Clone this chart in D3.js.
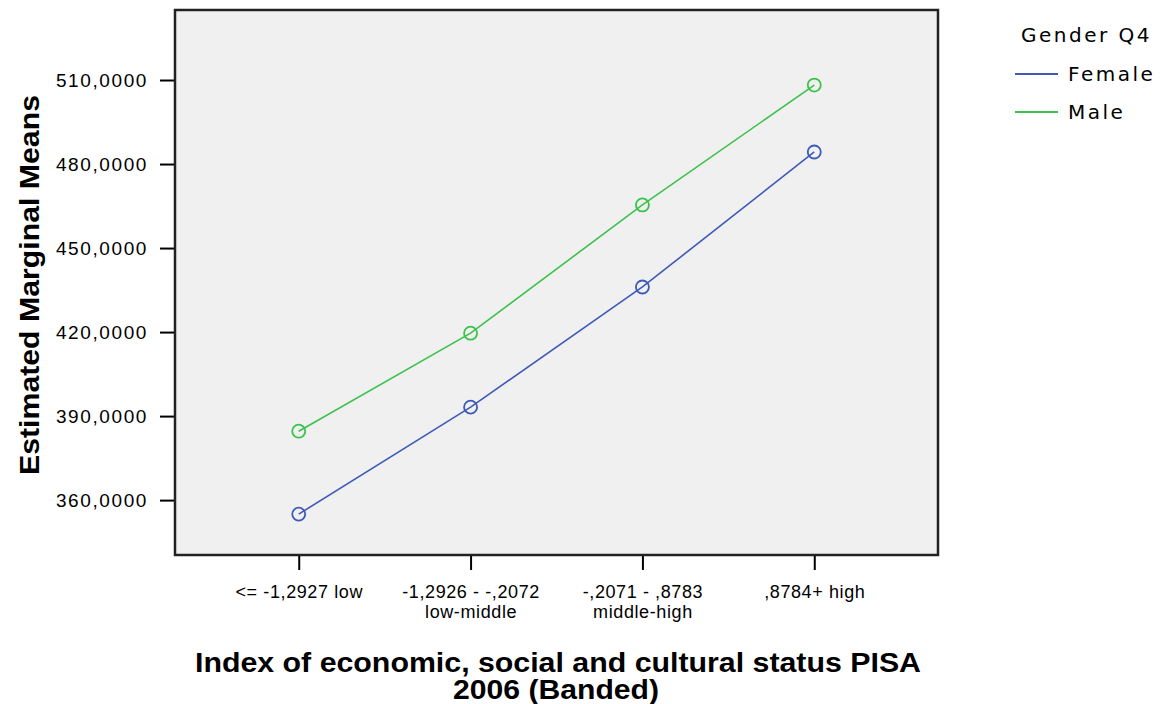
<!DOCTYPE html>
<html>
<head>
<meta charset="utf-8">
<script src="https://cdn.jsdelivr.net/npm/d3@7"></script>
<style>
  body { margin: 0; background: #fff; }
  svg { display: block; }
  .tick text { font-family: "Liberation Sans Narrow", "Liberation Sans", Arial, sans-serif; font-size: 18px; fill: #000; }
  .y-ax .tick text { font-size: 19px; letter-spacing: 1.6px; }
</style>
</head>
<body>
<svg width="1162" height="704"></svg>
<script>
// categories on the x axis (two-line labels)
const categories = ["<= -1,2927  low", "-1,2926 - -,2072|low-middle", "-,2071 - ,8783|middle-high", ",8784+ high"];
const seriesNames = ["Female", "Male"];
const femaleMeans = [355.0, 393.2, 436.1, 484.3];
const maleMeans = [384.6, 419.6, 465.4, 508.2];
const yTicks = [360, 390, 420, 450, 480, 510];

const colors = { Female: "#3d5ab8", Male: "#3cc24c" };

const svg = d3.select("svg");
const plot = { left: 175, top: 10, right: 938, bottom: 555 };
const titleFont = "'Liberation Sans Narrow', 'Liberation Sans', Arial, sans-serif";

const x = d3.scalePoint()
  .domain(categories)
  .range([plot.left, plot.right])
  .padding(0.72);

const y = d3.scaleLinear()
  .domain([340.4, 535])
  .range([plot.bottom, plot.top]);

// comma as decimal separator like the original output
const fmt = d3.formatLocale({ decimal: ",", thousands: ".", grouping: [3], currency: ["", ""] }).format(".4f");

// plot background
svg.append("rect")
  .attr("x", plot.left).attr("y", plot.top)
  .attr("width", plot.right - plot.left)
  .attr("height", plot.bottom - plot.top)
  .attr("fill", "#f0f0f0");

// y axis
const yAxis = svg.append("g")
  .attr("class", "y-ax")
  .attr("transform", `translate(${plot.left},0)`)
  .call(d3.axisLeft(y).tickValues(yTicks).tickFormat(fmt).tickSize(15).tickPadding(12));
yAxis.select(".domain").remove();
yAxis.selectAll(".tick line").attr("stroke", "#000").attr("stroke-width", 2);

// x axis
const xAxis = svg.append("g")
  .attr("transform", `translate(0,${plot.bottom})`)
  .call(d3.axisBottom(x).tickSize(15).tickPadding(10).tickFormat(""));
xAxis.select(".domain").remove();
xAxis.selectAll(".tick line").attr("stroke", "#000").attr("stroke-width", 2);
xAxis.selectAll(".tick").each(function (d) {
  const lines = d.split("|");
  lines.forEach((l, i) => {
    d3.select(this).append("text")
      .attr("text-anchor", "middle")
      .attr("y", 43 + i * 20)
      .style("letter-spacing", "0.6px")
      .text(l);
  });
});

// frame
svg.append("rect")
  .attr("x", plot.left).attr("y", plot.top)
  .attr("width", plot.right - plot.left)
  .attr("height", plot.bottom - plot.top)
  .attr("fill", "none")
  .attr("stroke", "#222")
  .attr("stroke-width", 2.5);

// lines and markers
const series = [
  { name: "Female", values: femaleMeans },
  { name: "Male", values: maleMeans }
];

const line = d3.line()
  .x((d, i) => x(categories[i]))
  .y(d => y(d));

series.forEach(s => {
  svg.append("path")
    .datum(s.values)
    .attr("fill", "none")
    .attr("stroke", colors[s.name])
    .attr("stroke-width", 1.6)
    .attr("d", line);

  svg.selectAll(null)
    .data(s.values)
    .enter()
    .append("circle")
    .attr("cx", (d, i) => x(categories[i]))
    .attr("cy", d => y(d))
    .attr("r", 6.5)
    .attr("fill", "none")
    .attr("stroke", colors[s.name])
    .attr("stroke-width", 1.8);
});

// axis titles
svg.append("text")
  .attr("transform", "translate(39,285) rotate(-90)")
  .attr("text-anchor", "middle")
  .attr("textLength", 380)
  .attr("lengthAdjust", "spacingAndGlyphs")
  .style("font-family", titleFont)
  .style("font-weight", "bold")
  .style("font-size", "27px")
  .text("Estimated Marginal Means");

svg.append("text")
  .attr("x", 558).attr("y", 672)
  .attr("text-anchor", "middle")
  .attr("textLength", 726)
  .attr("lengthAdjust", "spacingAndGlyphs")
  .style("font-family", titleFont)
  .style("font-weight", "bold")
  .style("font-size", "27px")
  .text("Index of economic, social and cultural status PISA");

svg.append("text")
  .attr("x", 556).attr("y", 699)
  .attr("text-anchor", "middle")
  .attr("textLength", 206)
  .attr("lengthAdjust", "spacingAndGlyphs")
  .style("font-family", titleFont)
  .style("font-weight", "bold")
  .style("font-size", "27px")
  .text("2006 (Banded)");

// legend
const legend = svg.append("g")
  .style("font-family", "'DejaVu Sans', Verdana, sans-serif")
  .style("font-size", "20px")
  .style("letter-spacing", "2.5px");
legend.append("text")
  .attr("x", 1021).attr("y", 42)
  .text("Gender Q4");
seriesNames.forEach((n, i) => {
  const ly = 74 + i * 38;
  legend.append("line")
    .attr("x1", 1015).attr("x2", 1058)
    .attr("y1", ly).attr("y2", ly)
    .attr("stroke", colors[n])
    .attr("stroke-width", 2);
  legend.append("text")
    .attr("x", 1068).attr("y", ly + 7)
    .text(n);
});
</script>
</body>
</html>
